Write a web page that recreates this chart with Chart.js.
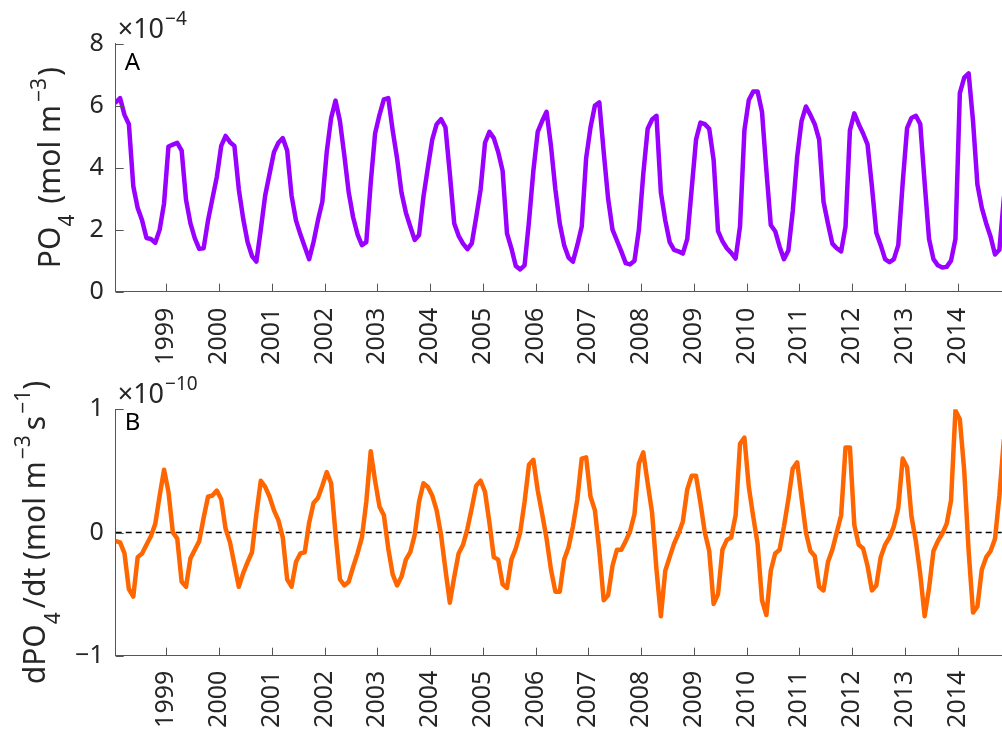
<!DOCTYPE html>
<html><head><meta charset="utf-8">
<script src="https://cdn.jsdelivr.net/npm/chart.js@4.4.0/dist/chart.umd.min.js"></script>
<style>
html,body{margin:0;padding:0;overflow:hidden;background:#fff;width:1002px;height:734px;}
.wrap{position:absolute;left:0;width:1010px;height:367px;}
canvas{display:block;}
</style></head><body>
<div class="wrap" style="top:0"><canvas id="c1" width="1010" height="367"></canvas></div>
<div class="wrap" style="top:367px"><canvas id="c2" width="1010" height="367"></canvas></div>
<script>
// monthly series starting January 1998
const startYear = 1998;
const yearTicks = [1999,2000,2001,2002,2003,2004,2005,2006,2007,2008,2009,2010,2011,2012,2013,2014];
// PO4 in units of 1e-4 mol m^-3
const po4 = [
6.1,6.24,5.7,5.4,3.4,2.7,2.3,1.73,1.7,1.58,2.0,2.85,
4.68,4.74,4.8,4.55,2.96,2.2,1.72,1.38,1.4,2.3,3.0,3.7,
4.7,5.02,4.82,4.7,3.3,2.35,1.6,1.15,0.97,2.0,3.1,3.8,
4.5,4.8,4.95,4.55,3.1,2.3,1.85,1.45,1.05,1.6,2.3,2.9,
4.5,5.6,6.16,5.5,4.4,3.2,2.4,1.85,1.5,1.6,3.5,5.1,
5.7,6.2,6.24,5.2,4.3,3.2,2.55,2.1,1.67,1.83,3.06,4.0,
4.9,5.4,5.56,5.3,3.8,2.2,1.8,1.55,1.37,1.56,2.4,3.3,
4.8,5.15,4.95,4.5,3.9,1.88,1.4,0.83,0.72,0.85,2.26,3.9,
5.16,5.5,5.8,4.7,3.3,2.2,1.5,1.1,0.97,1.5,2.1,4.3,
5.3,6.0,6.1,4.5,3.0,2.0,1.65,1.3,0.92,0.88,1.0,2.0,
3.8,5.25,5.55,5.67,3.2,2.3,1.6,1.35,1.3,1.23,1.7,3.3,
4.9,5.45,5.4,5.25,4.25,1.95,1.63,1.4,1.25,1.07,2.1,5.2,
6.18,6.45,6.45,5.8,3.9,2.15,1.95,1.45,1.05,1.33,2.6,4.35,
5.5,5.97,5.7,5.4,4.9,2.9,2.2,1.55,1.4,1.3,2.1,5.2,
5.75,5.4,5.1,4.75,3.4,1.9,1.5,1.05,0.95,1.05,1.5,3.5,
5.27,5.6,5.67,5.4,3.5,1.7,1.05,0.85,0.78,0.8,1.0,1.7,
6.4,6.9,7.04,5.5,3.45,2.7,2.2,1.77,1.2,1.35,3.0,4.0
];
// dPO4/dt in units of 1e-10 mol m^-3 s^-1
const dpo4 = [
-0.07,-0.08,-0.17,-0.46,-0.52,-0.2,-0.17,-0.1,-0.03,0.07,0.3,0.51,
0.33,0.0,-0.05,-0.4,-0.44,-0.21,-0.14,-0.07,0.12,0.29,0.3,0.34,
0.27,0.03,-0.08,-0.26,-0.44,-0.33,-0.24,-0.16,0.15,0.42,0.37,0.29,
0.18,0.1,-0.04,-0.38,-0.44,-0.24,-0.17,-0.16,0.08,0.24,0.28,0.38,
0.49,0.4,-0.01,-0.38,-0.43,-0.4,-0.28,-0.17,-0.04,0.25,0.66,0.42,
0.21,0.14,-0.13,-0.34,-0.43,-0.36,-0.22,-0.16,-0.02,0.25,0.4,0.37,
0.3,0.18,-0.02,-0.3,-0.57,-0.36,-0.17,-0.1,0.03,0.2,0.38,0.42,
0.33,0.08,-0.2,-0.22,-0.42,-0.45,-0.22,-0.13,0.0,0.25,0.55,0.59,
0.34,0.15,-0.05,-0.3,-0.48,-0.48,-0.22,-0.12,0.05,0.27,0.6,0.61,
0.29,0.18,-0.15,-0.55,-0.51,-0.27,-0.14,-0.14,-0.07,0.01,0.15,0.56,
0.65,0.4,0.16,-0.3,-0.68,-0.31,-0.2,-0.09,-0.01,0.09,0.35,0.46,
0.46,0.24,0.0,-0.15,-0.58,-0.5,-0.14,-0.06,-0.04,0.14,0.72,0.77,
0.37,0.13,-0.09,-0.55,-0.67,-0.31,-0.17,-0.14,0.05,0.27,0.52,0.57,
0.28,0.0,-0.15,-0.19,-0.44,-0.47,-0.24,-0.14,0.0,0.14,0.69,0.69,
0.06,-0.1,-0.13,-0.27,-0.47,-0.43,-0.2,-0.1,-0.04,0.05,0.2,0.6,
0.53,0.13,-0.07,-0.34,-0.68,-0.45,-0.15,-0.07,-0.01,0.07,0.26,0.99,
0.92,0.5,-0.15,-0.65,-0.6,-0.3,-0.2,-0.15,-0.05,0.3,0.75,0.8
];
const po4Ticks = [0,2,4,6,8];
const dpo4Ticks = [-1,0,1];
const zeroLine = [0,0];

const months = po4.map((_, i) => startYear + (i + 0.5) / 12);
const xMin = months[0], xMax = months[months.length - 1];

const TXT = '#262626', AX = '#555555';
const FONT = '"Noto Sans", "DejaVu Sans", sans-serif';

function drawParts(ctx, parts, x, y, align) {
  let w = 0;
  parts.forEach(p => { ctx.font = p.s + 'px ' + FONT; p.w = ctx.measureText(p.t).width; w += p.w + (p.g || 0); });
  let cx = align === 'center' ? x - w / 2 : x;
  parts.forEach(p => {
    ctx.font = p.s + 'px ' + FONT;
    ctx.fillText(p.t, cx, y + (p.dy || 0));
    cx += p.w + (p.g || 0);
  });
}

function deco(cfg) {
  return {
    id: 'deco',
    afterDraw(chart) {
      const { ctx, chartArea: a, scales: { x, y } } = chart;
      ctx.save();
      ctx.strokeStyle = AX; ctx.lineWidth = 1;
      ctx.beginPath();
      yearTicks.forEach(v => {
        const px = Math.round(x.getPixelForValue(v)) + 0.5;
        ctx.moveTo(px, a.bottom); ctx.lineTo(px, a.bottom - 8);
      });
      cfg.yTicks.forEach(v => {
        const py = Math.round(y.getPixelForValue(v)) + 0.5;
        ctx.moveTo(a.left, py); ctx.lineTo(a.left + 8, py);
      });
      ctx.stroke();
      ctx.textBaseline = 'alphabetic';
      ctx.textAlign = 'left';
      ctx.fillStyle = TXT;
      ctx.save();
      ctx.translate(cfg.titleX, (a.top + a.bottom) / 2);
      ctx.rotate(-Math.PI / 2);
      drawParts(ctx, cfg.title, 0, 0, 'center');
      ctx.restore();
      drawParts(ctx, cfg.expo, a.left + 2, cfg.expoY, 'left');
      ctx.fillStyle = '#000';
      ctx.font = '24px ' + FONT;
      ctx.fillText(cfg.letter, a.left + 9, a.top + cfg.letterDy);
      ctx.restore();
    }
  };
}

function makeChart(id, data, color, yTicks, yMin, yMax, padTop, xHeight, xPad, cfg, extra) {
  const datasets = [{
    data: data.map((v, i) => ({ x: months[i], y: v })),
    borderColor: color, borderWidth: 4.5, pointRadius: 0, tension: 0,
    borderJoinStyle: 'round', borderCapStyle: 'round', fill: false, order: 1
  }];
  if (extra) datasets.push(extra);
  return new Chart(document.getElementById(id), {
    type: 'line',
    data: { datasets },
    options: {
      responsive: false, animation: false, devicePixelRatio: 1,
      layout: { padding: { top: padTop, right: 1.8, bottom: 0, left: 0 } },
      plugins: { legend: { display: false }, tooltip: { enabled: false } },
      scales: {
        x: {
          type: 'linear', min: xMin, max: xMax,
          afterBuildTicks: s => { s.ticks = yearTicks.map(v => ({ value: v })); },
          afterFit: s => { s.height = xHeight; },
          grid: { display: false, drawTicks: false },
          border: { display: true, color: AX, width: 1 },
          ticks: { autoSkip: false, minRotation: 90, maxRotation: 90, padding: xPad,
            color: TXT, font: { family: FONT, size: 25 }, callback: v => String(v) }
        },
        y: {
          min: yMin, max: yMax,
          afterBuildTicks: s => { s.ticks = yTicks.map(v => ({ value: v })); },
          afterFit: s => { s.width = 115.7; },
          grid: { display: false, drawTicks: false },
          border: { display: true, color: AX, width: 1 },
          ticks: { padding: 12, color: TXT, font: { family: FONT, size: 25 },
            callback: v => String(v).replace('-', '\u2212') }
        }
      }
    },
    plugins: [deco(cfg)]
  });
}

makeChart('c1', po4, '#9900ff', po4Ticks, 0, 8, 43.5, 75.3, 16, {
  yTicks: po4Ticks, titleX: 60, letter: 'A', letterDy: 26.5, expoY: 38,
  title: [{ t: 'PO', s: 30 }, { t: '4', s: 21, dy: 14, g: 3 }, { t: ' (mol m', s: 30, g: 3 }, { t: '\u22123', s: 21, dy: -14, g: 2 }, { t: ')', s: 30 }],
  expo: [{ t: '\u00d710', s: 27, g: 1 }, { t: '\u22124', s: 19, dy: -13 }]
});

makeChart('c2', dpo4, '#ff6600', dpo4Ticks, -1, 1, 42.3, 78.3, 15, {
  yTicks: dpo4Ticks, titleX: 45, letter: 'B', letterDy: 21, expoY: 35.7,
  title: [{ t: 'dPO', s: 30 }, { t: '4', s: 21, dy: 15, g: 4 }, { t: '/dt (mol m', s: 30, g: 2 }, { t: '\u22123', s: 21, dy: -15, g: 5 }, { t: 's', s: 30, g: 2 }, { t: '\u22121', s: 21, dy: -15 }, { t: ')', s: 30 }],
  expo: [{ t: '\u00d710', s: 27, g: 1 }, { t: '\u221210', s: 19, dy: -13 }]
}, {
  data: [{ x: xMin, y: zeroLine[0] }, { x: xMax, y: zeroLine[1] }],
  borderColor: '#000', borderWidth: 1.5, borderDash: [6, 4], pointRadius: 0, order: 2
});
</script>
</body></html>
